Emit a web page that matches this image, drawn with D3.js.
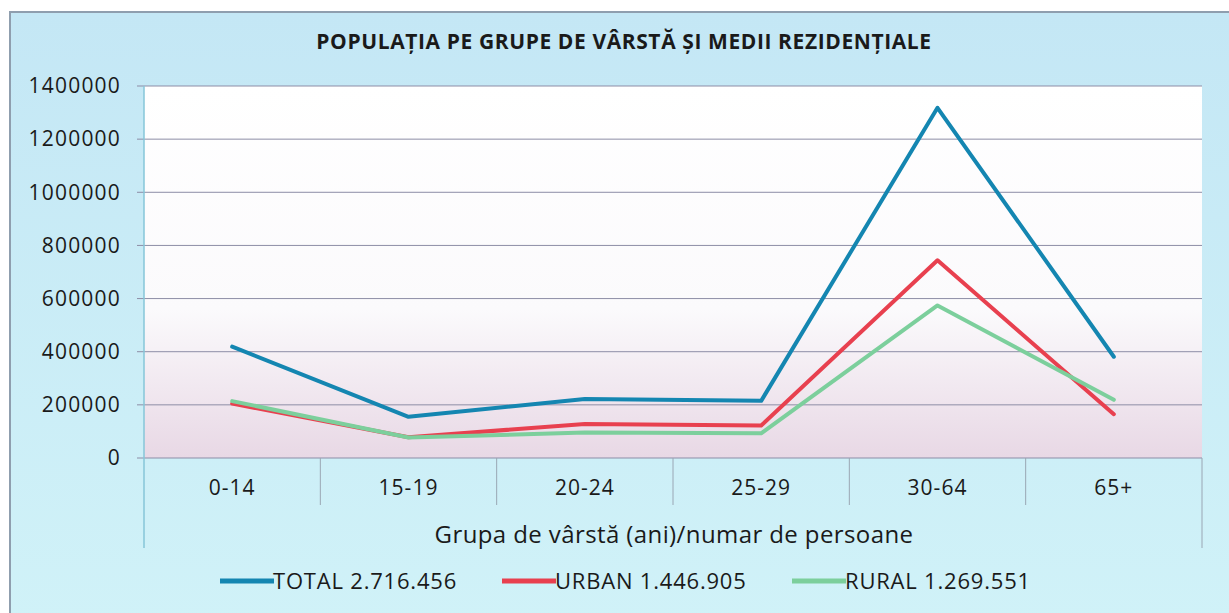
<!DOCTYPE html>
<html>
<head>
<meta charset="utf-8">
<script src="https://cdn.jsdelivr.net/npm/d3@7"></script>
<style>
  body { margin: 0; background: #fff; }
  text { font-family: "Open Sans", sans-serif; fill: #1a1a1a; }
</style>
</head>
<body>
<div id="chart"></div>
<script>
// date
const categories = ['0-14', '15-19', '20-24', '25-29', '30-64', '65+'];
const total = [419000, 155000, 222000, 215000, 1318000, 381000];
const urban = [205000, 78000, 128000, 122000, 744000, 165000];
const rural = [214000, 77000, 96000, 93000, 574000, 219000];
const yTicks = [0, 200000, 400000, 600000, 800000, 1000000, 1200000, 1400000];
const legendLabels = ['TOTAL 2.716.456', 'URBAN 1.446.905', 'RURAL 1.269.551'];
const colors = ['#1486b1', '#e8404f', '#7ccf9c'];

const WIDTH = 1229;
const HEIGHT = 613;
const margin = { left: 144, right: 1202, top: 86, bottom: 458 };

const svg = d3.select('#chart').append('svg')
  .attr('width', WIDTH).attr('height', HEIGHT);

const defs = svg.append('defs');
const bg = defs.append('linearGradient').attr('id', 'bg').attr('x1', 0).attr('y1', 0).attr('x2', 0).attr('y2', 1);
bg.append('stop').attr('offset', '0%').attr('stop-color', '#c4e7f5');
bg.append('stop').attr('offset', '100%').attr('stop-color', '#d0f2f8');
const plotBg = defs.append('linearGradient').attr('id', 'plotbg').attr('x1', 0).attr('y1', 0).attr('x2', 0).attr('y2', 1);
plotBg.append('stop').attr('offset', '0%').attr('stop-color', '#ffffff');
plotBg.append('stop').attr('offset', '60%').attr('stop-color', '#fbfafc');
plotBg.append('stop').attr('offset', '100%').attr('stop-color', '#e8d8e5');

// fundalul graficului
svg.append('rect')
  .attr('x', 10).attr('y', 12)
  .attr('width', WIDTH).attr('height', HEIGHT)
  .attr('fill', 'url(#bg)')
  .attr('stroke', '#8f9eae').attr('stroke-width', 2);

// scale
const x = d3.scaleBand().domain(categories).range([margin.left, margin.right]);
const y = d3.scaleLinear().domain([0, 1400000]).range([margin.bottom, margin.top]);

// zona de desenare
svg.append('rect')
  .attr('x', margin.left).attr('y', y(1400000))
  .attr('width', margin.right - margin.left).attr('height', y(0) - y(1400000))
  .attr('fill', 'url(#plotbg)');

// liniile orizontale
svg.append('g').selectAll('line')
  .data(yTicks)
  .enter()
  .append('line')
  .attr('x1', margin.left - 7).attr('x2', margin.right)
  .attr('y1', d => y(d)).attr('y2', d => y(d))
  .attr('stroke', '#8d8da6').attr('stroke-width', 1);

// axa Y
const yAxis = svg.append('g')
  .attr('transform', `translate(${margin.left},0)`)
  .call(d3.axisLeft(y).tickValues(yTicks).tickFormat(d3.format('d')).tickSize(0).tickPadding(23));
yAxis.select('.domain').remove();
yAxis.selectAll('text')
  .style('font-size', '21px').style('letter-spacing', '1.2px')
  .attr('fill', '#1a1a1a');

svg.append('line')
  .attr('x1', margin.left).attr('x2', margin.left)
  .attr('y1', y(1400000)).attr('y2', 548)
  .attr('stroke', '#86c6d8').attr('stroke-width', 1.5);

// separatoare categorii
const edges = categories.map(c => x(c)).concat([x(categories[categories.length - 1]) + x.bandwidth()]);
svg.append('g').selectAll('line')
  .data(edges.slice(1))
  .enter()
  .append('line')
  .attr('x1', d => d).attr('x2', d => d)
  .attr('y1', y(0)).attr('y2', (d, i) => i === edges.length - 2 ? 548 : 505)
  .attr('stroke', '#9aa6b4').attr('stroke-width', 1);

// axa X
const xAxis = svg.append('g')
  .attr('transform', `translate(0,${y(0)})`)
  .call(d3.axisBottom(x).tickSize(0).tickPadding(22));
xAxis.select('.domain').remove();
xAxis.selectAll('text')
  .style('font-size', '21px').style('letter-spacing', '1px')
  .attr('fill', '#1a1a1a');

// liniile
const line = d3.line()
  .x((d, i) => x(categories[i]) + x.bandwidth() / 2)
  .y(d => y(d));

svg.append('g').selectAll('path')
  .data([total, urban, rural])
  .enter()
  .append('path')
  .attr('d', line)
  .attr('fill', 'none')
  .attr('stroke', (d, i) => colors[i])
  .attr('stroke-width', 4)
  .attr('stroke-linejoin', 'round')
  .attr('stroke-linecap', 'round');

// titlu
svg.append('text')
  .attr('x', 624).attr('y', 49)
  .attr('text-anchor', 'middle')
  .style('font-size', '21px').style('font-weight', 'bold').style('letter-spacing', '0.6px')
  .text('POPULAȚIA PE GRUPE DE VÂRSTĂ ȘI MEDII REZIDENȚIALE');

svg.append('text')
  .attr('x', 674).attr('y', 543)
  .attr('text-anchor', 'middle')
  .style('font-size', '24px').style('letter-spacing', '0.4px')
  .text('Grupa de vârstă (ani)/numar de persoane');

// legenda
const legendX = [220, 502, 792];
const legend = svg.append('g').selectAll('g')
  .data(legendLabels)
  .enter()
  .append('g')
  .attr('transform', (d, i) => `translate(${legendX[i]},581)`);

legend.append('line')
  .attr('x1', 0).attr('x2', 54)
  .attr('stroke', (d, i) => colors[i])
  .attr('stroke-width', 5);

legend.append('text')
  .attr('x', 53).attr('y', 8)
  .style('font-size', '22px').style('letter-spacing', '0.8px')
  .text(d => d);
</script>
</body>
</html>
